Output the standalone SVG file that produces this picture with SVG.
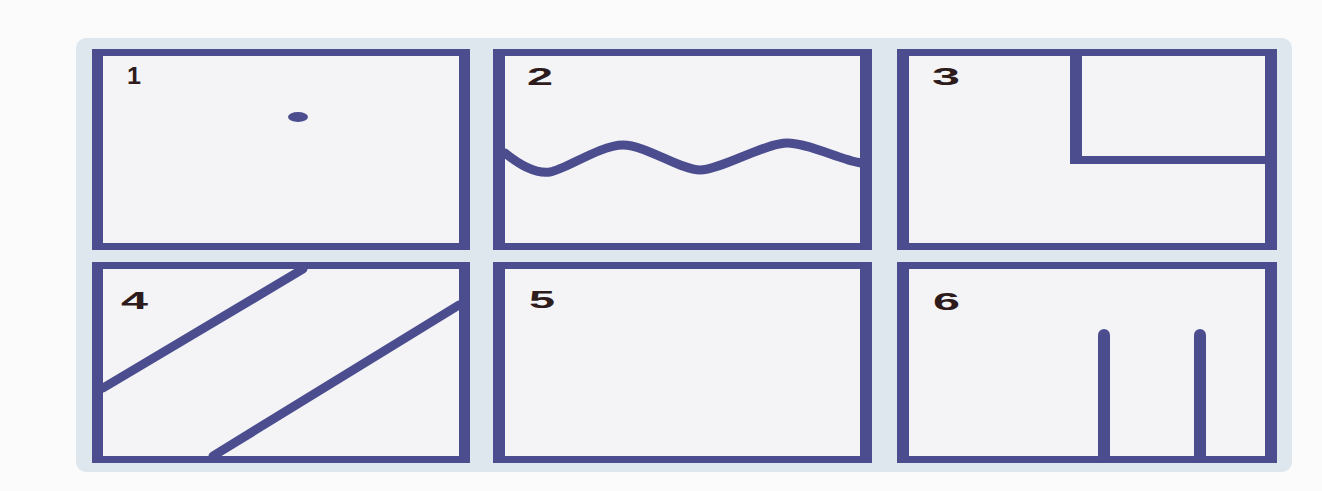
<svg xmlns="http://www.w3.org/2000/svg" width="1322" height="491" viewBox="0 0 1322 491">
<style>
.frame{fill:#4b4d8f}
.inner{fill:#f4f4f6}
.ink{fill:none;stroke:#4b4d8f;stroke-linecap:round;stroke-linejoin:round}
.lbl{font-family:"Liberation Sans",Arial,sans-serif;font-size:24px;font-weight:bold;fill:#2e1c1c}
</style>
<rect x="0" y="0" width="1322" height="491" fill="#fbfbfb"/>
<rect x="76" y="38" width="1216" height="434" rx="10" fill="#dfe7ee"/>
<g id="panel1">
<rect class="frame" x="92" y="49" width="378" height="201"/>
<rect class="inner" x="103" y="56" width="356" height="187"/>
<text class="lbl" x="127" y="84" textLength="14" lengthAdjust="spacingAndGlyphs">1</text>
<ellipse cx="298" cy="117" rx="10" ry="5" fill="#4b4d8f"/>
</g>
<g id="panel2">
<rect class="frame" x="493" y="49" width="379" height="201"/>
<rect class="inner" x="505" y="56" width="355" height="187"/>
<text class="lbl" x="527" y="85" textLength="26" lengthAdjust="spacingAndGlyphs">2</text>
<path class="ink" stroke-width="9" d="M505,153 C520,165 535,174 550,172 S600,145 623,145 S680,170 700,170 S765,143 787,143 S840,160 861,163"/>
</g>
<g id="panel3">
<rect class="frame" x="897" y="49" width="380" height="201"/>
<rect class="inner" x="909" y="56" width="356" height="187"/>
<text class="lbl" x="932" y="85" textLength="28" lengthAdjust="spacingAndGlyphs">3</text>
<path d="M1070,56 V164 H1265 V156 H1082 V56 Z" fill="#4b4d8f"/>
</g>
<g id="panel4">
<rect class="frame" x="92" y="262" width="378" height="201"/>
<rect class="inner" x="103" y="269" width="356" height="187"/>
<text class="lbl" x="121" y="309" textLength="27" lengthAdjust="spacingAndGlyphs">4</text>
<path class="ink" stroke-width="9" stroke-linecap="butt" d="M103,388 L303,269 M213,456 L459,305"/>
</g>
<g id="panel5">
<rect class="frame" x="493" y="262" width="379" height="201"/>
<rect class="inner" x="505" y="269" width="355" height="187"/>
<text class="lbl" x="529" y="308" textLength="26" lengthAdjust="spacingAndGlyphs">5</text>
</g>
<g id="panel6">
<rect class="frame" x="897" y="262" width="380" height="201"/>
<rect class="inner" x="909" y="269" width="356" height="187"/>
<text class="lbl" x="933" y="310" textLength="27" lengthAdjust="spacingAndGlyphs">6</text>
<path class="ink" stroke-width="12" d="M1104,335 V456 M1200,335 V456"/>
</g>
<g id="connectors"></g>
</svg>
